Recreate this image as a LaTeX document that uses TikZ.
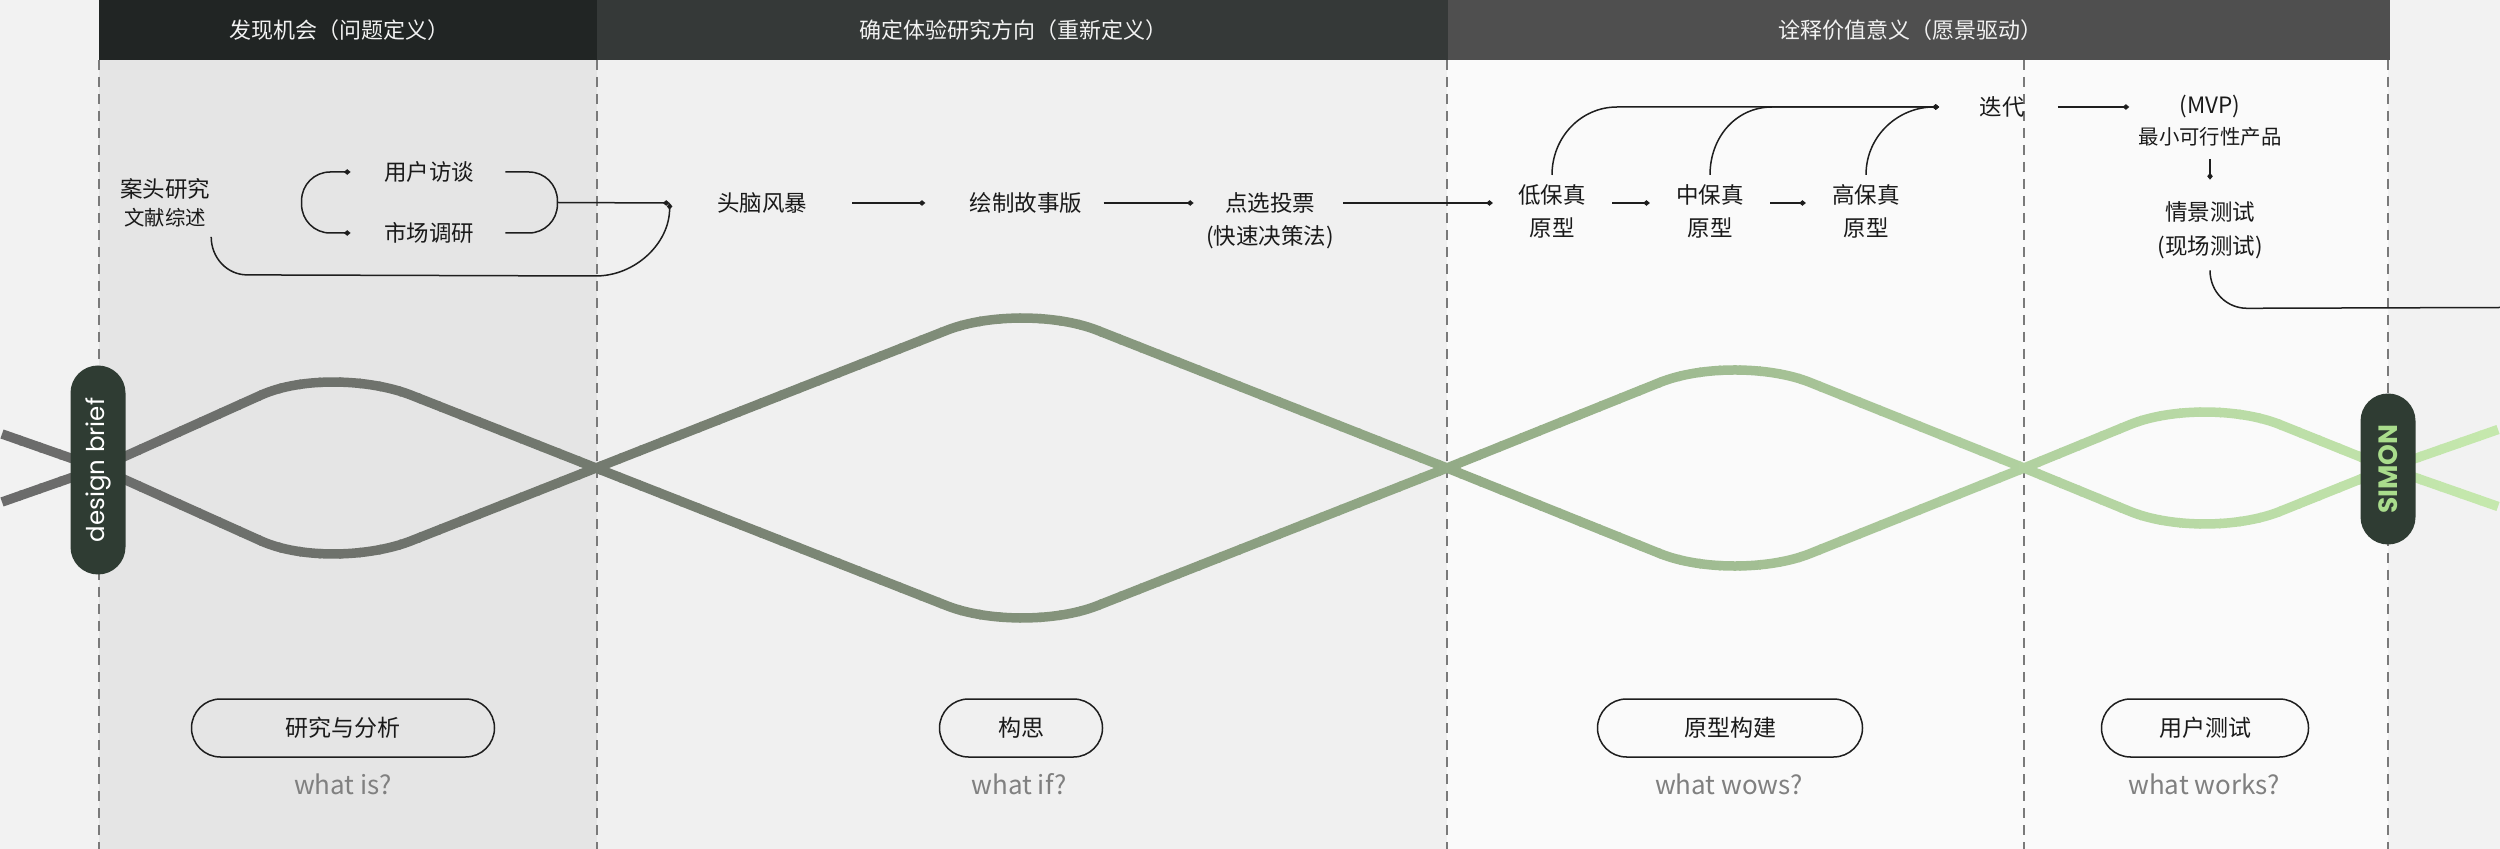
\documentclass[tikz,border=0pt]{standalone}
\usepackage{fontspec}
\setmainfont{Noto Sans CJK SC}
\newfontfamily\poppins{Poppins}
\usetikzlibrary{arrows.meta,calc}
\definecolor{bgout}{HTML}{F2F2F2}
\definecolor{bgone}{HTML}{E5E5E5}
\definecolor{bgtwo}{HTML}{F0F0F0}
\definecolor{bgthree}{HTML}{FAFAFA}
\definecolor{hdone}{HTML}{212524}
\definecolor{hdtwo}{HTML}{353938}
\definecolor{hdthree}{HTML}{4F4F4F}
\definecolor{hdrfg}{HTML}{F2F2F2}
\definecolor{dashcol}{HTML}{7A7A7A}
\definecolor{lncol}{HTML}{1E1E1E}
\definecolor{txtcol}{HTML}{1A1A1A}
\definecolor{askcol}{HTML}{808080}
\definecolor{pillcol}{HTML}{2F3C33}
\definecolor{simoncol}{HTML}{A9DC8C}
\definecolor{w0}{HTML}{6B6B6B}
\definecolor{w1}{HTML}{70756D}
\definecolor{w2}{HTML}{82907A}
\definecolor{w3}{HTML}{95AE88}
\definecolor{w4}{HTML}{B0CF9F}
\definecolor{w5}{HTML}{C5E9AD}
\newcommand\drawwaves{%
  \draw[wavestroke] (2,434) -- (99,468) -- (261,540.9) .. controls (302.25,559.5) and (369.75,557.1) .. (411,540.9) -- (596,468) -- (947,330.2) .. controls (988.25,314) and (1055.75,314) .. (1097,330.2) -- (1447,468) -- (1660,553.6) .. controls (1701.25,570.2) and (1768.75,570.1) .. (1810,553.6) -- (2024,468) -- (2130,424.6) .. controls (2171.25,407.7) and (2238.75,408) .. (2280,424.6) -- (2388,468) -- (2498,506.5);
  \draw[wavestroke] (2,502) -- (99,468) -- (261,395.1) .. controls (302.25,376.5) and (369.75,378.9) .. (411,395.1) -- (596,468) -- (947,605.8) .. controls (988.25,622) and (1055.75,622) .. (1097,605.8) -- (1447,468) -- (1660,382.4) .. controls (1701.25,365.8) and (1768.75,365.9) .. (1810,382.4) -- (2024,468) -- (2130,511.4) .. controls (2171.25,528.3) and (2238.75,528) .. (2280,511.4) -- (2388,468) -- (2498,429.5);
}
\begin{document}
\begin{tikzpicture}[x=0.5pt,y=-0.5pt,
  >={Diamond[length=3.4pt,width=2.8pt]},
  lbl/.style={inner sep=0pt, font=\fontsize{11.25}{16.75}\selectfont, align=center, text=txtcol},
  sublbl/.style={inner sep=0pt, font=\fontsize{10.2}{13}\selectfont, text=txtcol},
  hdrtxt/.style={inner sep=0pt, font=\fontsize{11}{13}\selectfont, text=hdrfg},
  conn/.style={draw=lncol, line width=0.75pt},
  dotend/.style={->},
  bothends/.style={<->},
  phasebox/.style={draw=lncol, line width=0.75pt, rounded corners=14.5pt, minimum height=29pt, inner sep=0pt, font=\fontsize{11.5}{13}\selectfont, text=txtcol},
  askq/.style={inner sep=0pt, text=askcol, font=\fontsize{13}{15}\selectfont},
  badgebox/.style={fill=pillcol, rounded corners=13.75pt, minimum height=27.5pt, inner sep=0pt, rotate=90},
  divline/.style={draw=dashcol, line width=0.75pt, dash pattern=on 5pt off 3.5pt},
  wavestroke/.style={line width=4.75pt, line join=round, draw=wc}
]
\useasboundingbox (0,0) rectangle (2500,849);
% backgrounds
\fill[bgout] (0,0) rectangle (2500,849);
\fill[bgone] (99,0) rectangle (597,849);
\fill[bgtwo] (597,0) rectangle (1447,849);
\fill[bgthree] (1447,0) rectangle (2388,849);
% header
\fill[hdone] (99,0) rectangle (597,60);
\fill[hdtwo] (597,0) rectangle (1448,60);
\fill[hdthree] (1448,0) rectangle (2390,60);
\node[hdrtxt] (h1) at (339,30) {发现机会（问题定义）};
\node[hdrtxt] (h2) at (1013,30) {确定体验研究方向（重新定义）};
\node[hdrtxt] (h3) at (1910,30) {诠释价值意义（愿景驱动）};
% dividers
\foreach \xd in {99,597,1447,2024,2388} { \draw[divline] (\xd,60) -- (\xd,849); }
% waves with horizontal colour gradient
\foreach \s/\ca/\cb in {0/w0/w1,1/w1/w2,2/w2/w3,3/w3/w4,4/w4/w5} {
  \foreach \j in {0,...,24} {
    \pgfmathtruncatemacro\xa{\s*500+\j*20}
    \pgfmathtruncatemacro\pc{98-4*\j}
    \colorlet{wc}{\ca!\pc!\cb}
    \begin{scope}
      \clip (\xa-1,300) rectangle (\xa+21,660);
      \drawwaves
    \end{scope}
  }
}
% badges
\node[badgebox, minimum width=104.5pt, text=white, font=\poppins\fontsize{12.25}{14}\selectfont] (brief) at (98,470) {design brief};
\node[badgebox, minimum width=75.5pt, text=simoncol, font=\poppins\bfseries\fontsize{13.25}{15}\selectfont] (simon) at (2388,469) {SIMON};
% top labels
\node[lbl] (desk) at (165,189) {案头研究};
\node[sublbl] (lit) at (165,218) {文献综述};
\node[lbl] (interview) at (429,172) {用户访谈};
\node[lbl] (market) at (429,233) {市场调研};
\node[lbl] (brain) at (762,203) {头脑风暴};
\node[lbl] (story) at (1026,203) {绘制故事版};
\node[lbl] (vote) at (1270,203) {点选投票};
\node[lbl] (votesub) at (1270,237) {(快速决策法)};
\node[lbl] (low) at (1552,211.5) {低保真\\原型};
\node[lbl] (mid) at (1710,211.5) {中保真\\原型};
\node[lbl] (high) at (1866,211.5) {高保真\\原型};
\node[lbl] (iter) at (2002,107) {迭代};
\node[lbl] (mvp) at (2210,107) {(MVP)};
\node[sublbl] (mvpsub) at (2210,137) {最小可行性产品};
\node[lbl] (scene) at (2210,230.5) {情景测试\\(现场测试)};
% helper coordinates
\coordinate (bj) at ($(interview.east)!0.5!(market.east)$);
\coordinate (merge) at ($(brain.west)+(-47,0)$);
\coordinate (iterdot) at ($(iter.west)+(-40,0)$);
\coordinate (exitR) at (2500,307.5);
% connectors
\draw[conn, bothends, rounded corners=14.25pt] ($(interview.west)+(-33,0)$) -- ($(interview.west)+(-82,0)$) -- ($(market.west)+(-82,0)$) -- ($(market.west)+(-33,0)$);
\draw[conn, rounded corners=14.25pt] ($(interview.east)+(31,0)$) -- ($(interview.east)+(83,0)$) -- ($(market.east)+(83,0)$) -- ($(market.east)+(31,0)$);
\draw[conn, dotend] ($(bj)+(83,0)$) -- (merge);
\draw[conn, dotend] ($(lit.south east)+(5,9)$) .. controls +(0,21) and +(-20,0) .. ($(lit.south east)+(41,47)$) -- ($(merge)+(-74,73)$) .. controls +(40,0) and +(0,40) .. (merge);
\draw[conn, dotend] ($(brain.east)+(45,0)$) -- ($(story.west)+(-44,0)$);
\draw[conn, dotend] ($(story.east)+(21,0)$) -- ($(vote.west)+(-31,0)$);
\draw[conn, dotend] ($(vote.east)+(28,0)$) -- ($(low.west |- vote.east)+(-25,0)$);
\draw[conn, dotend] ($(low.east |- vote.east)+(26,0)$) -- ($(mid.west |- vote.east)+(-26,0)$);
\draw[conn, dotend] ($(mid.east |- vote.east)+(26,0)$) -- ($(high.west |- vote.east)+(-26,0)$);
\draw[conn, dotend] ($(low.north)+(0,-9)$) .. controls +(0,-38) and +(-36,0) .. ($(iterdot)+(-322,0)$) -- (iterdot);
\draw[conn, dotend] ($(mid.north)+(0,-9)$) .. controls +(0,-38) and +(-36,0) .. ($(iterdot)+(-167,0)$) -- (iterdot);
\draw[conn, dotend] ($(high.north)+(0,-9)$) .. controls +(0,-40) and +(-40,0) .. (iterdot);
\draw[conn, dotend] ($(iter.east)+(33,0)$) -- ($(mvp.west)+(-50,0)$);
\draw[conn, dotend] ($(mvpsub.south)+(0,12)$) -- ($(scene.north)+(0,-22)$);
\draw[conn] ($(scene.south)+(0,11)$) .. controls +(0,22) and +(-20,0) .. ($(scene.south)+(37,49)$) -- (exitR);
% phases
\node[phasebox, minimum width=151.5pt] (p1) at (343,728) {研究与分析};
\node[phasebox, minimum width=81.5pt] (p2) at (1021,728) {构思};
\node[phasebox, minimum width=132.5pt] (p3) at (1730,728) {原型构建};
\node[phasebox, minimum width=103.5pt] (p4) at (2205,728) {用户测试};
\node[askq] (q1) at (343,784) {what is?};
\node[askq] (q2) at (1019,784) {what if?};
\node[askq] (q3) at (1729,784) {what wows?};
\node[askq] (q4) at (2204,784) {what works?};
\end{tikzpicture}
\end{document}
